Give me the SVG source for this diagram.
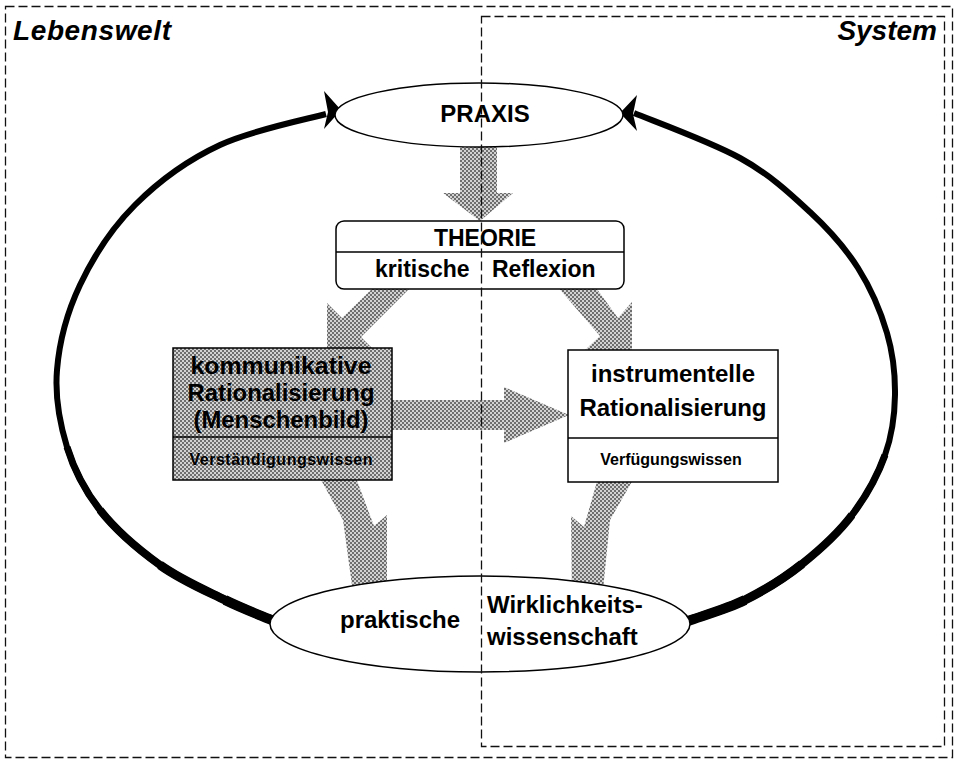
<svg xmlns="http://www.w3.org/2000/svg" width="955" height="760" viewBox="0 0 955 760">
  <style>
    .frame { fill: none; stroke: #111; stroke-width: 1.3; stroke-dasharray: 9 4; }
    .loop { fill: none; stroke: #000; stroke-linecap: butt; stroke-linejoin: round; }
    .head { fill: #000; }
    .band { fill: url(#screen); stroke: none; }
    .node { fill: #fff; stroke: #000; stroke-width: 1.5; }
    .tinted { fill: url(#screen); stroke: #000; stroke-width: 1.5; }
    .rule { stroke: #000; stroke-width: 1.3; }
    .lbl { font-family: "Liberation Sans", Arial, Helvetica, sans-serif; font-weight: bold; fill: #000; }
    .title { font-family: "Liberation Sans", Arial, Helvetica, sans-serif; font-weight: bold; font-style: italic; font-size: 28px; fill: #000; }
  </style>
  <defs>
    <!-- halftone screen used for the broad arrows and the shaded box -->
    <pattern id="screen" x="0" y="0" width="4" height="4" patternUnits="userSpaceOnUse">
      <rect width="4" height="4" fill="#d2d2d2"/>
      <rect x="0" y="0" width="2" height="2" fill="#6e6e6e"/>
      <rect x="2" y="2" width="2" height="2" fill="#6e6e6e"/>
    </pattern>
  </defs>

  <rect width="955" height="760" fill="#fff"/>

  <!-- outer frame: Lebenswelt -->
  <rect class="frame" x="5.5" y="6.5" width="947" height="751"/>
  <text class="title" x="13" y="40" textLength="158">Lebenswelt</text>

  <g id="connectors">
    <!-- left half of the cycle: bottom ellipse back up to PRAXIS, thickening towards the bottom -->
    <path class="loop" stroke-width="6" d="M326,114 C308,119 253,129.7 220,145 C187,160.3 158.3,181.7 135,205 C111.7,228.3 93,257.5 80,285 C67,312.5 59.2,343 57,370 C54.8,397 59.8,423.7 67,447 C74.2,470.3 84.5,490.3 100,510 C115.5,529.7 139.2,550 160,565 C180.8,580 206.3,590.8 225,600 C243.7,609.2 264.2,616.7 272,620"/>
    <path class="loop" stroke-width="7" d="M67,447 C74.2,470.3 84.5,490.3 100,510 C115.5,529.7 139.2,550 160,565 C180.8,580 206.3,590.8 225,600 C243.7,609.2 264.2,616.7 272,620"/>
    <path class="loop" stroke-width="8" d="M100,510 C115.5,529.7 139.2,550 160,565 C180.8,580 206.3,590.8 225,600 C243.7,609.2 264.2,616.7 272,620"/>
    <path class="loop" stroke-width="9" d="M160,565 C180.8,580 206.3,590.8 225,600 C243.7,609.2 264.2,616.7 273,620.5"/>
    <path class="loop" stroke-width="10" d="M225,600 C243.7,609.2 264.2,616.7 274,621"/>
    <polygon class="head" points="324,91 341,110 324,129 328,112"/>

    <!-- right half of the cycle -->
    <path class="loop" stroke-width="6" d="M634,113 C652,120.5 710,141.5 740,158 C770,174.5 790.3,193.7 810,212 C829.7,230.3 845.2,247.8 858,268 C870.8,288.2 880.8,311.8 887,333 C893.2,354.2 895.3,374.7 895,395 C894.7,415.3 892.2,435 885,455 C877.8,475 865.8,496.8 852,515 C838.2,533.2 819.8,549.8 802,564 C784.2,578.2 763.7,590.7 745,600 C726.3,609.3 699.2,616.7 690,620"/>
    <path class="loop" stroke-width="7" d="M885,455 C877.8,475 865.8,496.8 852,515 C838.2,533.2 819.8,549.8 802,564 C784.2,578.2 763.7,590.7 745,600 C726.3,609.3 699.2,616.7 690,620"/>
    <path class="loop" stroke-width="8" d="M852,515 C838.2,533.2 819.8,549.8 802,564 C784.2,578.2 763.7,590.7 745,600 C726.3,609.3 699.2,616.7 690,620"/>
    <path class="loop" stroke-width="9" d="M802,564 C784.2,578.2 763.7,590.7 745,600 C726.3,609.3 699.2,616.7 689,620.5"/>
    <path class="loop" stroke-width="10" d="M745,600 C726.3,609.3 699.2,616.7 688,621"/>
    <polygon class="head" points="637,95 620,113 637,131 633,114"/>

    <!-- PRAXIS down to THEORIE -->
    <polygon class="band" points="460,140 497,140 497,193 513,193 480,221 443,193 460,193"/>
    <!-- THEORIE to kommunikative Rationalisierung -->
    <polygon class="band" points="376,285 413,285 361,337 376,352 327,352 327,303 342,318"/>
    <!-- THEORIE to instrumentelle Rationalisierung -->
    <polygon class="band" points="556,285 594,285 618,318 632,302 632,352 583,352 600,336"/>
    <!-- kommunikative to instrumentelle Rationalisierung -->
    <polygon class="band" points="390,400 504,400 504,387 569,415 504,443 504,430 390,430"/>
    <!-- kommunikative Rationalisierung down to the bottom ellipse -->
    <polygon class="band" points="320,478 356,478 374,526 387,515 387,600 354,600 343,520"/>
    <!-- instrumentelle Rationalisierung down to the bottom ellipse -->
    <polygon class="band" points="634,478 598,478 584,527 571,516 572,600 602,600 610,520"/>
  </g>

  <g id="praxis">
    <ellipse class="node" cx="479" cy="115" rx="144" ry="32"/>
    <text class="lbl" x="485" y="122" font-size="24" text-anchor="middle">PRAXIS</text>
  </g>

  <g id="theorie">
    <rect class="node" x="336" y="221" width="288" height="68" rx="8"/>
    <line class="rule" x1="336" y1="252" x2="624" y2="252"/>
    <text class="lbl" x="485" y="246" font-size="23" text-anchor="middle">THEORIE</text>
    <text class="lbl" y="277" font-size="23"><tspan x="375">kritische</tspan><tspan x="492">Reflexion</tspan></text>
  </g>

  <g id="kommunikativ">
    <rect class="tinted" x="173" y="348" width="219" height="132"/>
    <line class="rule" x1="173" y1="437" x2="392" y2="437"/>
    <text class="lbl" x="281" y="374" font-size="24" text-anchor="middle" textLength="181" lengthAdjust="spacingAndGlyphs">kommunikative</text>
    <text class="lbl" x="281" y="401" font-size="24" text-anchor="middle" textLength="187" lengthAdjust="spacingAndGlyphs">Rationalisierung</text>
    <text class="lbl" x="281" y="428" font-size="24" text-anchor="middle" textLength="175" lengthAdjust="spacingAndGlyphs">(Menschenbild)</text>
    <text class="lbl" x="281" y="465" font-size="16" text-anchor="middle" textLength="183">Verständigungswissen</text>
  </g>

  <g id="instrumentell">
    <rect class="node" x="568" y="350" width="210" height="132"/>
    <line class="rule" x1="568" y1="438" x2="778" y2="438"/>
    <text class="lbl" x="673" y="382" font-size="24" text-anchor="middle">instrumentelle</text>
    <text class="lbl" x="673" y="416" font-size="24" text-anchor="middle" textLength="187">Rationalisierung</text>
    <text class="lbl" x="671" y="465" font-size="16" text-anchor="middle">Verfügungswissen</text>
  </g>

  <g id="wissenschaft">
    <ellipse class="node" cx="480" cy="624" rx="210" ry="48"/>
    <text class="lbl" x="400" y="628" font-size="24" text-anchor="middle">praktische</text>
    <text class="lbl" x="487" y="613" font-size="24">Wirklichkeits-</text>
    <text class="lbl" x="487" y="645" font-size="24">wissenschaft</text>
  </g>

  <!-- inner frame: System, drawn last so its dashed edge runs across everything -->
  <g id="system">
    <rect class="frame" x="481.5" y="16.5" width="463" height="730"/>
    <text class="title" x="937" y="40" text-anchor="end">System</text>
  </g>
</svg>
